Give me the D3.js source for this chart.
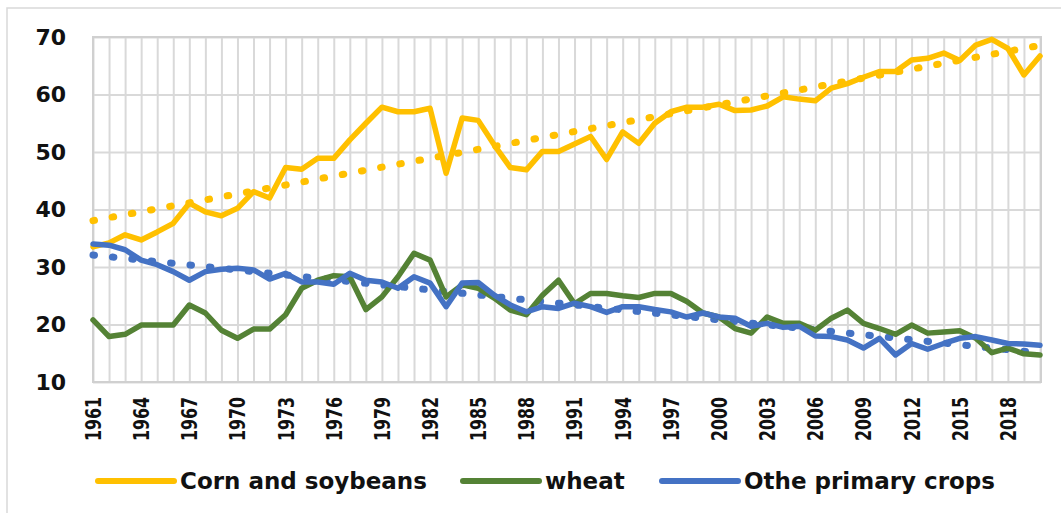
<!DOCTYPE html>
<html lang="en">
<head>
  <meta charset="UTF-8">
  <title>Corn and soybeans, wheat, other primary crops</title>
  <script src="https://d3js.org/d3.v7.min.js"></script>
  <style>
    *{
      margin: 0;
      padding: 0;
      box-sizing: border-box;
    }
    body {
      background: #fff;
      font-family: 'DejaVu Sans', Verdana, sans-serif;
    }
    .grid line {
      stroke: #d9d9d9;
      stroke-width: 2;
    }
    .grid path {
      display: none;
    }
    .tick_text {
      font-weight: bold;
      fill: #111;
    }
    .legend_text {
      font-size: 23px;
      font-weight: bold;
      fill: #111;
    }
  </style>
</head>
<body>
  <svg width="1061" height="513"></svg>
  <script>
    // data (share, %)
    var years = d3.range(1961, 2021);
    var yTicks = [10, 20, 30, 40, 50, 60, 70];
    var xLabelYears = d3.range(1961, 2021, 3);

    var cornSoy = [33.5, 34.2, 35.6, 34.7, 36.1, 37.6, 41.1, 39.6, 38.9, 40.2,
                   43.1, 42.0, 47.3, 47.0, 48.9, 48.9, 52.1, 55.0, 57.8, 57.0,
                   57.0, 57.6, 46.3, 55.9, 55.5, 51.2, 47.3, 46.9, 50.1, 50.1,
                   51.4, 52.7, 48.7, 53.5, 51.5, 55.0, 57.0, 57.8, 57.8, 58.3,
                   57.2, 57.3, 58.0, 59.6, 59.2, 58.9, 61.1, 61.9, 63.0, 64.0,
                   64.0, 66.0, 66.3, 67.2, 65.9, 68.6, 69.6, 68.0, 63.4, 66.7];

    var wheat = [20.8, 17.9, 18.3, 19.9, 19.9, 19.9, 23.4, 22.0, 19.0, 17.6,
                 19.2, 19.2, 21.7, 26.3, 27.7, 28.5, 28.3, 22.6, 24.8, 28.3,
                 32.4, 31.2, 24.8, 26.9, 26.3, 24.6, 22.5, 21.7, 25.1, 27.7,
                 23.6, 25.4, 25.4, 25.0, 24.7, 25.4, 25.4, 24.0, 22.0, 21.3,
                 19.3, 18.5, 21.3, 20.2, 20.2, 19.0, 21.1, 22.5, 20.2, 19.3,
                 18.3, 19.9, 18.5, 18.7, 18.9, 17.6, 15.1, 15.9, 14.9, 14.7];

    var otherCrops = [34.0, 33.8, 33.0, 31.2, 30.4, 29.2, 27.7, 29.2, 29.6, 29.8,
                      29.5, 27.9, 28.9, 27.4, 27.4, 27.0, 28.9, 27.7, 27.4, 26.3,
                      28.3, 27.2, 23.1, 27.2, 27.3, 25.1, 23.4, 22.2, 23.1, 22.8,
                      23.7, 23.1, 22.1, 23.1, 23.1, 22.6, 22.2, 21.3, 22.0, 21.3,
                      21.1, 19.7, 20.2, 19.5, 19.7, 18.0, 17.9, 17.3, 15.9, 17.6,
                      14.7, 16.7, 15.7, 16.7, 17.6, 17.9, 17.3, 16.7, 16.6, 16.4];

    var seriesNames = ['Corn and soybeans', 'wheat', 'Othe primary crops'];
    var seriesColors = ['#ffc000', '#548235', '#4472c4'];

    var svg = d3.select("svg");

    // outer chart frame
    svg.append("rect")
      .attr("x", 7).attr("y", 8)
      .attr("width", 1080).attr("height", 520)
      .attr("fill", "#fff")
      .attr("stroke", "#d9d9d9")
      .attr("stroke-width", 1.5);

    var x = d3.scaleLinear().domain([1961, 2020]).range([93, 1040]);
    var y = d3.scaleLinear().domain([10, 70]).range([382, 37]);

    // gridlines
    svg.append("g")
      .attr("class", "grid")
      .attr("transform", "translate(0,382)")
      .call(d3.axisBottom(x).tickValues(years).tickSize(-345).tickFormat(""));
    svg.append("g")
      .attr("class", "grid")
      .attr("transform", "translate(93,0)")
      .call(d3.axisLeft(y).tickValues(yTicks).tickSize(-948).tickFormat(""));

    svg.append("rect")
      .attr("x", 93).attr("y", 37)
      .attr("width", 948).attr("height", 345)
      .attr("fill", "none")
      .attr("stroke", "#d0d0d0")
      .attr("stroke-width", 2);

    // y labels
    var yAxis = svg.append("g")
      .attr("transform", "translate(66,0)")
      .call(d3.axisLeft(y).tickValues(yTicks).tickSize(0).tickPadding(0));
    yAxis.select(".domain").remove();
    yAxis.selectAll("text")
      .attr("class", "tick_text")
      .style("font-size", "22px")
      .style("font-family", "'DejaVu Sans', sans-serif");

    // x labels (rotated)
    svg.append("g").selectAll("text")
      .data(xLabelYears)
      .enter().append("text")
      .attr("class", "tick_text")
      .attr("transform", function(d) {return "translate(" + x(d) + ",397) rotate(-90) scale(0.72,1)"})
      .attr("text-anchor", "end")
      .attr("dy", "0.36em")
      .style("font-size", "22px")
      .text(function(d) {return d});

    // lines
    var allSeries = [cornSoy, wheat, otherCrops];
    var line = d3.line()
      .x(function(d, i) {return x(years[i])})
      .y(function(d) {return y(d)});

    // linear trend (least squares) for corn/soy and other crops
    function trend(vals) {
      var mx = d3.mean(years), my = d3.mean(vals);
      var sxy = d3.sum(years, function(yr, i) {return (yr - mx) * (vals[i] - my)});
      var sxx = d3.sum(years, function(yr) {return (yr - mx) * (yr - mx)});
      var b = sxy / sxx, a = my - b * mx;
      return [[1961, a + b * 1961], [2020, a + b * 2020]];
    }
    var trendLine = d3.line()
      .x(function(d) {return x(d[0])})
      .y(function(d) {return y(d[1])});

    [0, 2].forEach(function(k) {
      svg.append("path")
        .attr("d", trendLine(trend(allSeries[k])))
        .attr("fill", "none")
        .attr("stroke", seriesColors[k])
        .attr("stroke-width", 7)
        .attr("stroke-linecap", "round")
        .attr("stroke-dasharray", "1.5,18");
    });

    [0, 1, 2].forEach(function(k) {
      svg.append("path")
        .attr("d", line(allSeries[k]))
        .attr("fill", "none")
        .attr("stroke", seriesColors[k])
        .attr("stroke-width", 5.5)
        .attr("stroke-linejoin", "round")
        .attr("stroke-linecap", "round");
    });

    // legend
    var legendX = [98, 463, 662];
    var legend = svg.append("g").selectAll("g")
      .data(seriesNames)
      .enter().append("g")
      .attr("transform", function(d, i) {return "translate(" + legendX[i] + ",481)"});
    legend.append("line")
      .attr("x1", 0).attr("x2", 76)
      .attr("stroke", function(d, i) {return seriesColors[i]})
      .attr("stroke-width", 6)
      .attr("stroke-linecap", "round");
    legend.append("text")
      .attr("class", "legend_text")
      .attr("x", 82)
      .attr("y", 8)
      .text(function(d) {return d});
  </script>
</body>
</html>
